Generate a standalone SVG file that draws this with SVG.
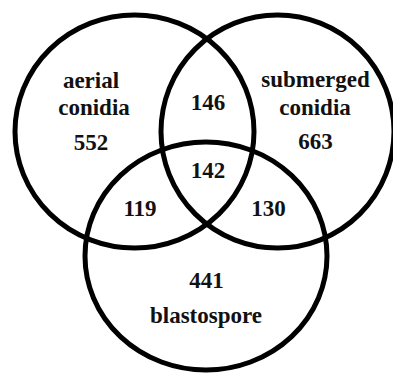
<svg xmlns="http://www.w3.org/2000/svg" width="393" height="376" viewBox="0 0 393 376">
<style>
.c{fill:none;stroke:#000;stroke-width:5}
.t{font-family:"Liberation Serif","Times New Roman",serif;font-weight:bold;font-size:23px;fill:#111;text-anchor:middle}
</style>
<rect width="393" height="376" fill="#fff"/>
<g id="aerial">
<ellipse class="c" cx="134.5" cy="131.5" rx="119.5" ry="116.5"/>
<text class="t" x="91" y="88">aerial</text>
<text class="t" x="94" y="115">conidia</text>
<text class="t" x="91" y="150">552</text>
</g>
<g id="submerged">
<ellipse class="c" cx="277.5" cy="131.5" rx="116.5" ry="116.5"/>
<text class="t" x="315.5" y="87">submerged</text>
<text class="t" x="315" y="115">conidia</text>
<text class="t" x="315.5" y="149">663</text>
</g>
<g id="blastospore">
<ellipse class="c" cx="206" cy="256" rx="121" ry="114"/>
<text class="t" x="206.5" y="288">441</text>
<text class="t" x="206" y="323">blastospore</text>
</g>
<g id="overlaps">
<text class="t" x="208" y="110">146</text>
<text class="t" x="208" y="178">142</text>
<text class="t" x="140" y="216">119</text>
<text class="t" x="268.5" y="216">130</text>
</g>
</svg>
